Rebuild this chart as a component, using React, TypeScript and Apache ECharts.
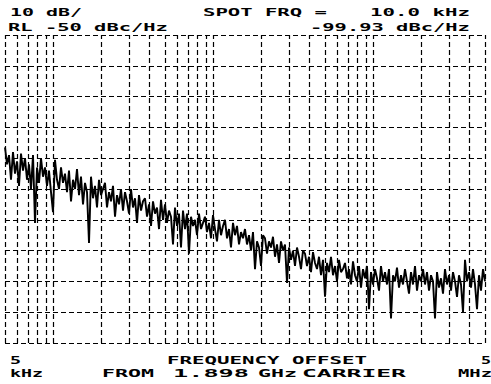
import React, { useEffect, useRef } from "react";
import * as echarts from "echarts";

// Phase noise trace, dBc/Hz, sampled 80 points per decade from 5 kHz
const NOISE_DBC = [
  -86.5, -92, -89, -97, -88, -95, -91, -99, -88.5, -94,
  -90, -97, -92, -100, -89, -111, -93, -98, -90, -96,
  -93, -99, -94, -101, -107.5, -90.5, -97, -100, -93, -98,
  -95, -101, -94, -104, -97, -100, -93.5, -102, -96, -105,
  -98, -101, -117.5, -96, -103, -99, -106, -97, -102, -100,
  -98, -106, -101, -104, -99, -109, -102, -105, -100, -107,
  -101, -104, -108, -100, -106, -103, -111, -102, -107, -104,
  -103, -109, -105, -112, -104, -108, -106, -113, -103.5, -110,
  -105, -111, -107, -109, -118, -106, -112, -108, -119, -107,
  -113, -108, -121, -109, -112, -110, -115, -108, -113, -111,
  -109, -114, -111, -116, -108.5, -113, -117, -110, -115, -112,
  -110, -116, -113, -119, -111, -115, -112, -118, -114, -116,
  -113, -118, -115, -120, -114, -126, -117, -119, -125, -115,
  -116, -121, -117, -119, -115.5, -122, -118, -124, -117, -120,
  -118, -130.5, -119, -123, -120, -125, -119, -122, -126, -120,
  -121, -125, -122, -127, -120.5, -124, -126, -122, -128, -123,
  -135, -124, -127, -122, -128, -125, -130, -123, -127, -126,
  -124, -129, -126, -131, -123.5, -128, -130, -125, -132, -126,
  -129, -125, -139, -127, -131, -126, -129, -133, -125, -130,
  -127, -131, -126, -142, -128, -130, -125.5, -132, -128, -131,
  -126, -130, -134, -127, -131, -125, -133, -128, -130, -126,
  -131, -127, -133, -128, -130, -142, -127, -132, -129, -134,
  -126, -131, -128, -133, -127, -130, -135, -128, -131, -140,
  -123, -130, -127, -132, -126, -131, -139, -128, -133, -126, -130,
];
const START_FREQ_HZ = 5000;
const POINTS_PER_DECADE = 80;
const FREQS_HZ = NOISE_DBC.map((_, i) => START_FREQ_HZ * Math.pow(10, i / POINTS_PER_DECADE));

// Log graticule lines, 5 kHz .. 5 MHz
const GRID_FREQS_HZ = [
  5e3, 6e3, 7e3, 8e3, 9e3,
  1e4, 2e4, 3e4, 4e4, 5e4, 6e4, 7e4, 8e4, 9e4,
  1e5, 2e5, 3e5, 4e5, 5e5, 6e5, 7e5, 8e5, 9e5,
  1e6, 2e6, 3e6, 4e6, 5e6,
];
const Y_MIN = -150;
const Y_MAX = -50;
const Y_STEP = 10;

// Annotation texts
const LABELS = [
  "10 dB/",
  "SPOT FRQ =",
  "10.0 kHz",
  "RL -50 dBc/Hz",
  "-99.93 dBc/Hz",
  "5",
  "FREQUENCY OFFSET",
  "5",
  "kHz",
  "FROM",
  "1.898",
  "GHz",
  "CARRIER",
  "MHz",
];

// Layout of the annotation texts: left x, centre y, ink width
const LABEL_LAYOUT = [
  [10, 12.5, 72],
  [203, 12.5, 124],
  [370, 12.5, 100],
  [8, 27.5, 160],
  [310, 27.5, 160],
  [10, 360.5, 11],
  [167, 360.5, 200],
  [481, 360.5, 10],
  [10, 373, 33],
  [102, 373, 52],
  [173, 373, 76],
  [258, 373, 39],
  [302, 373, 104],
  [458, 373, 34],
];

const FONT_SIZE = 11;
const MONO = '"DejaVu Sans Mono", monospace';

export default function App() {
  const ref = useRef<HTMLDivElement>(null);

  useEffect(() => {
    if (!ref.current) return;
    const chart = echarts.init(ref.current, null, { renderer: "svg" });
    const dash = [5, 3];
    chart.setOption({
      animation: false,
      backgroundColor: "#ffffff",
      grid: { left: 5, right: 6, top: 35, bottom: 41, outerBoundsMode: "none" },
      xAxis: {
        type: "log",
        logBase: 10,
        min: GRID_FREQS_HZ[0],
        max: GRID_FREQS_HZ[GRID_FREQS_HZ.length - 1],
        axisLabel: { show: false },
        axisTick: { show: false },
        axisLine: { show: false },
        splitLine: { show: false },
        minorSplitLine: { show: false },
      },
      yAxis: {
        type: "value",
        min: Y_MIN,
        max: Y_MAX,
        interval: Y_STEP,
        axisLabel: { show: false },
        axisTick: { show: false },
        axisLine: { show: false },
        splitLine: { show: true, lineStyle: { color: "#000", width: 1.2, type: dash } },
      },
      series: [
        {
          type: "line",
          data: FREQS_HZ.map((f, i) => [f, NOISE_DBC[i]]),
          showSymbol: false,
          symbol: "none",
          lineStyle: { color: "#000", width: 1.9 },
          z: 3,
          markLine: {
            silent: true,
            symbol: ["none", "none"],
            label: { show: false },
            lineStyle: { color: "#000", width: 1.2, type: dash },
            data: GRID_FREQS_HZ.map((f) => ({ xAxis: f })),
            z: 2,
          },
        },
      ],
      graphic: LABELS.map((s, i) => {
        const [x, y, w] = LABEL_LAYOUT[i];
        return {
          type: "text",
          x,
          y,
          scaleX: w / (s.length * 0.602 * FONT_SIZE),
          style: {
            text: s,
            fontFamily: MONO,
            fontWeight: "bold",
            fontSize: FONT_SIZE,
            fill: "#000",
            align: "left",
            verticalAlign: "middle",
          },
        };
      }),
    });
    return () => chart.dispose();
  }, []);

  return (
    <div
      ref={ref}
      style={{ position: "fixed", left: 0, top: 0, width: 491, height: 384, background: "#fff" }}
    />
  );
}
